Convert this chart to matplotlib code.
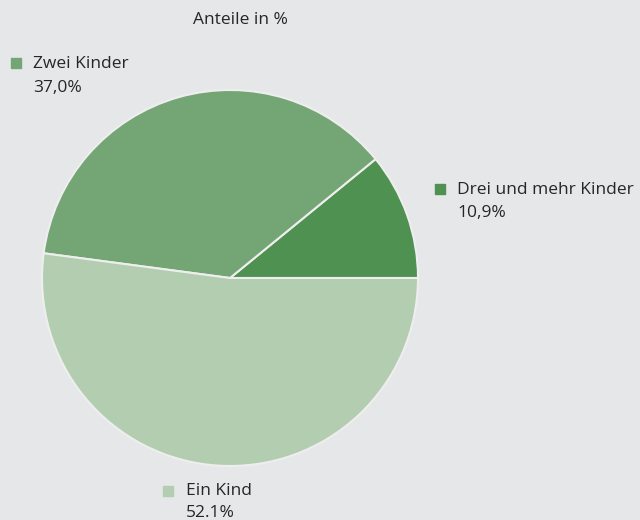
import matplotlib.pyplot as plt
from matplotlib.lines import Line2D

# data
labels = ['Drei und mehr Kinder', 'Zwei Kinder', 'Ein Kind']
values = [10.9, 37.0, 52.1]
value_texts = ['10,9%', '37,0%', '52.1%']
colors = ['#4f9150', '#74a574', '#b3cdb0']

BG = '#e6e7e9'
TXT = '#262626'
W, H = 640, 520

plt.rcParams['font.family'] = ['Open Sans', 'DejaVu Sans']

fig = plt.figure(figsize=(W / 100, H / 100), dpi=100, facecolor=BG)

# pie centred at about (230, 278) px with radius 188 px
cx, cy, r = 230, 278, 188
ax = fig.add_axes([(cx - r) / W, (H - cy - r) / H, 2 * r / W, 2 * r / H])
ax.set_facecolor(BG)
ax.pie(values, colors=colors, startangle=0, counterclock=True, radius=1,
       wedgeprops=dict(edgecolor='#eeeeee', linewidth=1.5))
ax.set_xlim(-1, 1)
ax.set_ylim(-1, 1)
ax.set_aspect('equal')
ax.axis('off')


def px(x, y):
    return x / W, 1 - y / H


fs = 12.5
fig.text(*px(240, 20), 'Anteile in %', ha='center', va='center',
         fontsize=fs, color=TXT)

# label positions: (marker x, marker y, text x, first line y, second line y)
label_pos = [
    (440, 189, 457, 190, 213),
    (16, 63, 33, 64, 88),
    (168, 491, 186, 491, 513),
]

for (mx, my, tx, y1, y2), name, vt, c in zip(label_pos, labels, value_texts, colors):
    fig.add_artist(Line2D([mx / W], [1 - my / H], marker='s', markersize=6.5,
                          color=c, linestyle='none', transform=fig.transFigure))
    fig.text(*px(tx, y1), name, ha='left', va='center', fontsize=fs, color=TXT)
    fig.text(*px(tx, y2), vt, ha='left', va='center', fontsize=fs, color=TXT)

fig.savefig('out.png', dpi=100, facecolor=BG)
